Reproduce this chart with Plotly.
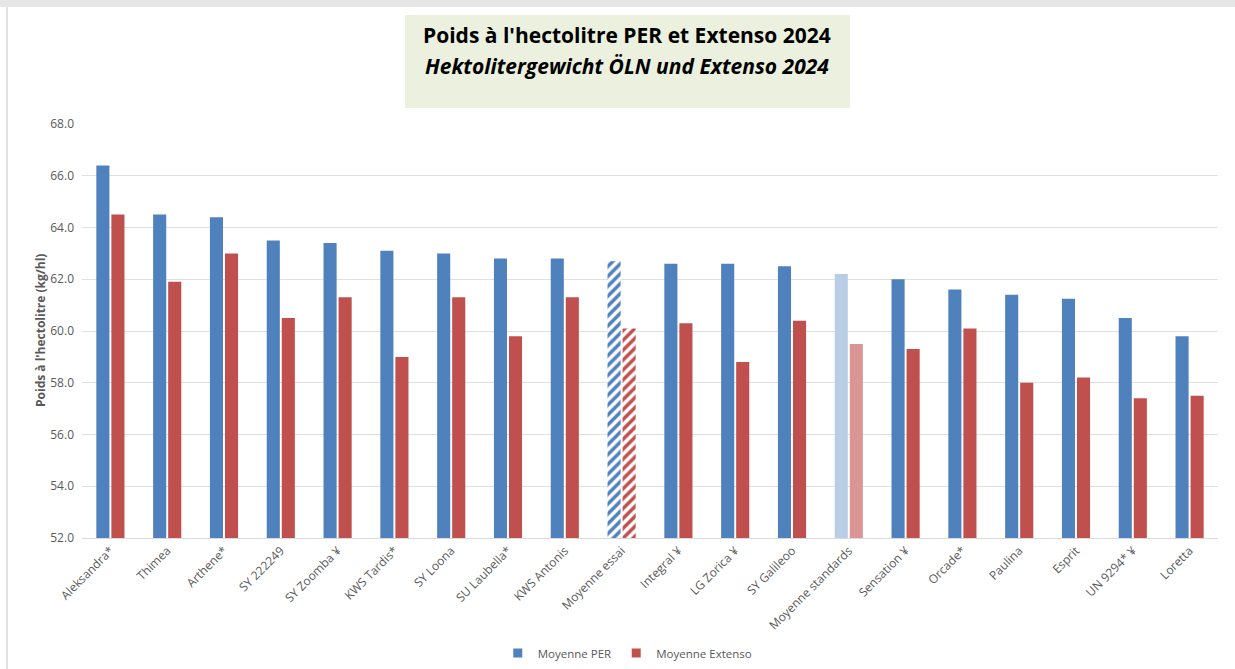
import plotly.graph_objects as go

categories = ["Aleksandra*", "Thimea", "Arthene*", "SY 222249", "SY Zoomba ¥", "KWS Tardis*",
              "SY Loona", "SU Laubella*", "KWS Antonis", "Moyenne essai", "Integral ¥",
              "LG Zorica ¥", "SY Galileoo", "Moyenne standards", "Sensation ¥", "Orcade*",
              "Paulina", "Esprit", "UN 9294* ¥", "Loretta"]
per_values = [66.4, 64.5, 64.4, 63.5, 63.4, 63.1, 63.0, 62.8, 62.8, 62.7, 62.6, 62.6, 62.5,
              62.2, 62.0, 61.6, 61.4, 61.25, 60.5, 59.8]
extenso_values = [64.5, 61.9, 63.0, 60.5, 61.3, 59.0, 61.3, 59.8, 61.3, 60.1, 60.3, 58.8, 60.4,
                  59.5, 59.3, 60.1, 58.0, 58.2, 57.4, 57.5]
y_ticks = [52, 54, 56, 58, 60, 62, 64, 66, 68]

BLUE = "#4F81BD"
RED = "#C0504D"
BLUE_LIGHT = "#B9CDE5"
RED_LIGHT = "#DA9694"
BLUE_BG = "#DCE6F2"
RED_BG = "#F2DCDB"


def bar_colors(base, light):
    return [light if c == "Moyenne standards" else base for c in categories]


def pattern_shapes():
    return ["/" if c == "Moyenne essai" else "" for c in categories]


fig = go.Figure()
for name, vals, base, light, bg in [
    ("Moyenne PER", per_values, BLUE, BLUE_LIGHT, BLUE_BG),
    ("Moyenne Extenso", extenso_values, RED, RED_LIGHT, RED_BG),
]:
    fig.add_trace(go.Bar(
        name=name, x=categories, y=vals, showlegend=False, legendgroup=name,
        marker=dict(color=bar_colors(base, light), line=dict(width=0),
                    pattern=dict(shape=pattern_shapes(), fgcolor=bg,
                                 fgopacity=1, size=7, solidity=0.5, fillmode="overlay")),
    ))

for name, base in [("Moyenne PER", BLUE), ("Moyenne Extenso", RED)]:
    fig.add_trace(go.Scatter(
        name=name, x=[None], y=[None], mode="markers", legendgroup=name,
        marker=dict(symbol="square", size=9, color=base),
    ))

fig.update_layout(
    width=1235, height=669,
    margin=dict(l=82, r=17, t=124, b=131, autoexpand=False),
    paper_bgcolor="white", plot_bgcolor="white",
    barmode="group", bargap=0.47, bargroupgap=0.13,
    font=dict(family="Open Sans, Liberation Sans, sans-serif", color="#595959", size=11),
    showlegend=True,
    legend=dict(orientation="h", x=0.48, xanchor="center", yref="container",
                y=(669 - 653) / 669, yanchor="middle",
                font=dict(size=11.5, color="#595959"), traceorder="normal",
                itemwidth=30, tracegroupgap=0),
    xaxis=dict(tickangle=-45, showgrid=False, showline=True, linecolor="#D9D9D9",
               linewidth=1, ticks="", automargin=False,
               tickfont=dict(size=12, color="#595959")),
    yaxis=dict(range=[52, 68], tickvals=y_ticks, tickformat=".1f", showgrid=True,
               gridcolor="#E0E0E0", gridwidth=1, zeroline=False, ticks="",
               ticklabelstandoff=7, automargin=False,
               tickfont=dict(size=12, color="#595959")),
    shapes=[
        dict(type="rect", xref="paper", yref="paper",
             x0=(405 - 82) / 1136, x1=(850 - 82) / 1136,
             y0=(538 - 108) / 414, y1=(538 - 15) / 414,
             fillcolor="#EBF1DE", line=dict(width=0), layer="below"),
        dict(type="rect", xref="paper", yref="paper",
             x0=-82 / 1136, x1=1.02, y0=(538 - 7) / 414, y1=538 / 414,
             fillcolor="#E6E6E6", line=dict(width=0)),
        dict(type="line", xref="paper", yref="paper",
             x0=(7 - 82) / 1136, x1=(7 - 82) / 1136, y0=-131 / 414, y1=(538 - 7) / 414,
             line=dict(color="#D9D9D9", width=1.5)),
    ],
    annotations=[
        dict(text="<b>Poids à l'hectolitre PER et Extenso 2024</b>", xref="paper", yref="paper",
             x=(627 - 82) / 1136, y=(538 - 35) / 414, xanchor="center", yanchor="middle",
             showarrow=False,
             font=dict(family="Liberation Sans Narrow, Open Sans, sans-serif", size=21, color="black")),
        dict(text="<b><i>Hektolitergewicht ÖLN und Extenso 2024</i></b>", xref="paper", yref="paper",
             x=(627 - 82) / 1136, y=(538 - 66) / 414, xanchor="center", yanchor="middle",
             showarrow=False,
             font=dict(family="Liberation Sans Narrow, Open Sans, sans-serif", size=21, color="black")),
        dict(text="<b>Poids à l'hectolitre (kg/hl)</b>", xref="paper", yref="paper",
             x=(40 - 82) / 1136, y=0.5, xanchor="center", yanchor="middle",
             textangle=-90, showarrow=False,
             font=dict(size=12, color="#595959")),
    ],
)

fig.write_html("out.html", config={"displayModeBar": False},
               post_script="document.body.style.margin='0';")
